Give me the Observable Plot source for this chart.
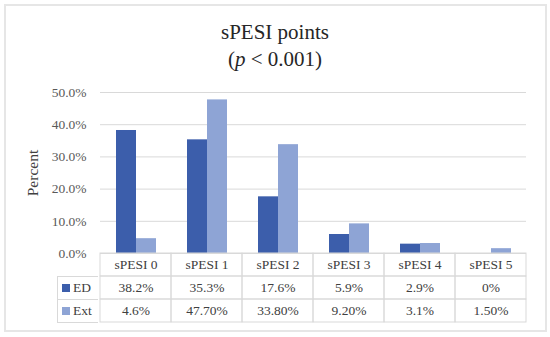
<!DOCTYPE html>
<html><head><meta charset="utf-8">
<script src="https://cdn.jsdelivr.net/npm/d3@7"></script>
<script src="https://cdn.jsdelivr.net/npm/@observablehq/plot@0.6"></script>
<style>
body{margin:0;background:#fff;}
#wrap{position:relative;width:550px;height:337px;font-family:"Liberation Serif",serif;color:#404040;overflow:hidden;background:#fff}
#frame{position:absolute;left:4px;top:4px;width:543px;height:328px;border:2px solid #e6e6e6;box-sizing:border-box}
.title{position:absolute;left:0;width:550px;text-align:center;font-size:21px;line-height:24px;color:#262626}
#ylab{position:absolute;left:-17px;top:163px;width:100px;text-align:center;font-size:15.5px;line-height:20px;color:#404040;transform:rotate(-90deg)}
#chart{position:absolute;left:0;top:0}
#table{position:absolute;left:0;top:252px}
#chart svg g, #table svg g{font-size:13.5px;font-family:"Liberation Serif",serif}
.leg{position:absolute;left:57px;width:41px;height:24px;border:1px solid #d9d9d9;border-right:none;box-sizing:border-box;font-size:13.5px;line-height:22px;color:#404040}
.sw{display:inline-block;width:8px;height:8px;margin-left:4px;margin-right:3px;vertical-align:0px}
</style></head>
<body>
<div id="wrap">
  <div id="frame"></div>
  <div class="title" style="top:20px">sPESI points</div>
  <div class="title" style="top:47px">(<i>p</i> &lt; 0.001)</div>
  <div id="ylab">Percent</div>
  <div id="chart"></div>
  <div id="table"></div>
  <div class="leg" id="leg0" style="top:276px"></div>
  <div class="leg" id="leg1" style="top:299px"></div>
</div>
<script>
const categories = ["sPESI 0", "sPESI 1", "sPESI 2", "sPESI 3", "sPESI 4", "sPESI 5"];
const series = ["ED", "Ext"];
const edValues = [38.2, 35.3, 17.6, 5.9, 2.9, 0];
const extValues = [4.6, 47.7, 33.8, 9.2, 3.1, 1.5];
const edLabels = ["38.2%", "35.3%", "17.6%", "5.9%", "2.9%", "0%"];
const extLabels = ["4.6%", "47.70%", "33.80%", "9.20%", "3.1%", "1.50%"];
const yTicks = [0, 10, 20, 30, 40, 50];
const colors = ["#3c5eab", "#8ea4d5"];

const data = categories.flatMap((c, i) => [
  {cat: c, series: "ED", value: edValues[i]},
  {cat: c, series: "Ext", value: extValues[i]}
]);

const chart = Plot.plot({
  width: 550, height: 263,
  marginTop: 92, marginBottom: 10, marginLeft: 97, marginRight: 22,
  style: {fontFamily: "Liberation Serif", fontSize: "13.5px", color: "#595959", background: "transparent", overflow: "visible"},
  facet: {data, x: "cat"},
  fx: {domain: categories, padding: 0, axis: null, label: null},
  x: {domain: series, paddingInner: 0, paddingOuter: 0.756, axis: null},
  y: {domain: [0, 50], ticks: yTicks, tickFormat: d => d.toFixed(1) + "%", tickSize: 0, tickPadding: 14, label: null},
  color: {domain: series, range: colors},
  marks: [
    Plot.ruleY(yTicks, {stroke: "#d9d9d9", strokeWidth: 1}),
    Plot.barY(data, {x: "series", y: "value", fill: "series"})
  ]
});
document.getElementById("chart").appendChild(chart);

const rows = ["header", "ED", "Ext"];
const cells = [];
categories.forEach((c, i) => {
  cells.push({cat: c, row: "header", text: c});
  cells.push({cat: c, row: "ED", text: edLabels[i]});
  cells.push({cat: c, row: "Ext", text: extLabels[i]});
});
const table = Plot.plot({
  width: 550, height: 71,
  marginTop: 1, marginBottom: 1, marginLeft: 97, marginRight: 22,
  style: {fontFamily: "Liberation Serif", fontSize: "13.5px", background: "transparent"},
  x: {domain: categories, padding: 0, axis: null},
  y: {domain: rows, padding: 0, axis: null},
  marks: [
    Plot.cell(cells, {x: "cat", y: "row", fill: "none", stroke: "#d9d9d9"}),
    Plot.text(cells, {x: "cat", y: "row", text: "text", fill: "#404040"})
  ]
});
document.getElementById("table").appendChild(table);

series.forEach((s, i) => {
  const el = document.getElementById("leg" + i);
  const sw = document.createElement("span");
  sw.className = "sw";
  sw.style.background = colors[i];
  el.appendChild(sw);
  el.appendChild(document.createTextNode(s));
});
</script>
</body></html>
